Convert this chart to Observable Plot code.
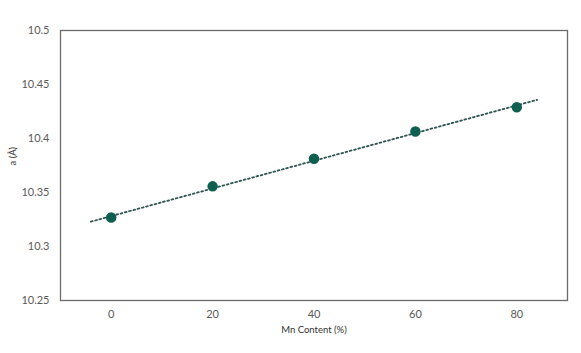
<!DOCTYPE html>
<html><head><meta charset="utf-8">
<script src="https://cdn.jsdelivr.net/npm/d3@7"></script>
<script src="https://cdn.jsdelivr.net/npm/@observablehq/plot@0.6"></script>
<style>body{margin:0;background:#fff;}#chart{width:581px;height:353px;}</style>
</head><body><div id="chart"></div>
<script>
const mnContent = [0, 20, 40, 60, 80];
const latticeA = [10.3268, 10.3557, 10.3813, 10.4065, 10.4290];
const trendX = [-4, 84];
const trendY = [10.323, 10.4358];
const xTicks = [0, 20, 40, 60, 80];
const yTicks = [10.25, 10.3, 10.35, 10.4, 10.45, 10.5];

const points = mnContent.map((x, i) => ({x, y: latticeA[i]}));
const trend = trendX.map((x, i) => ({x, y: trendY[i]}));

const chart = Plot.plot({
  width: 581, height: 353,
  marginLeft: 60, marginTop: 30, marginRight: 14, marginBottom: 53,
  style: {fontFamily: "Lato, 'Open Sans', sans-serif", fontSize: "11px", color: "#595959", background: "#fff"},
  x: {domain: [-10, 90], ticks: xTicks, tickSize: 0, tickPadding: 10, label: null},
  y: {domain: [10.25, 10.5], ticks: yTicks, tickSize: 0, tickPadding: 11, label: null, tickFormat: d3.format("~g")},
  marks: [
    Plot.frame({stroke: "#6b6b6b", strokeWidth: 1.3}),
    Plot.line(trend, {x: "x", y: "y", stroke: "#2f5550", strokeWidth: 1.8, strokeDasharray: "1.8,2.6"}),
    Plot.dot(points, {x: "x", y: "y", r: 4.5, fill: "#0f5f50", stroke: "#0f5f50"}),
    Plot.text(["Mn Content (%)"], {frameAnchor: "bottom", dy: 32, fontSize: 9.5, fill: "#333", fontFamily: "Lato, sans-serif"}),
    Plot.text(["a (Å)"], {frameAnchor: "left", dx: -48, rotate: -90, fontSize: 9.5, fill: "#333", fontFamily: "Lato, sans-serif"})
  ]
});
document.getElementById("chart").appendChild(chart);
</script>
</body></html>
